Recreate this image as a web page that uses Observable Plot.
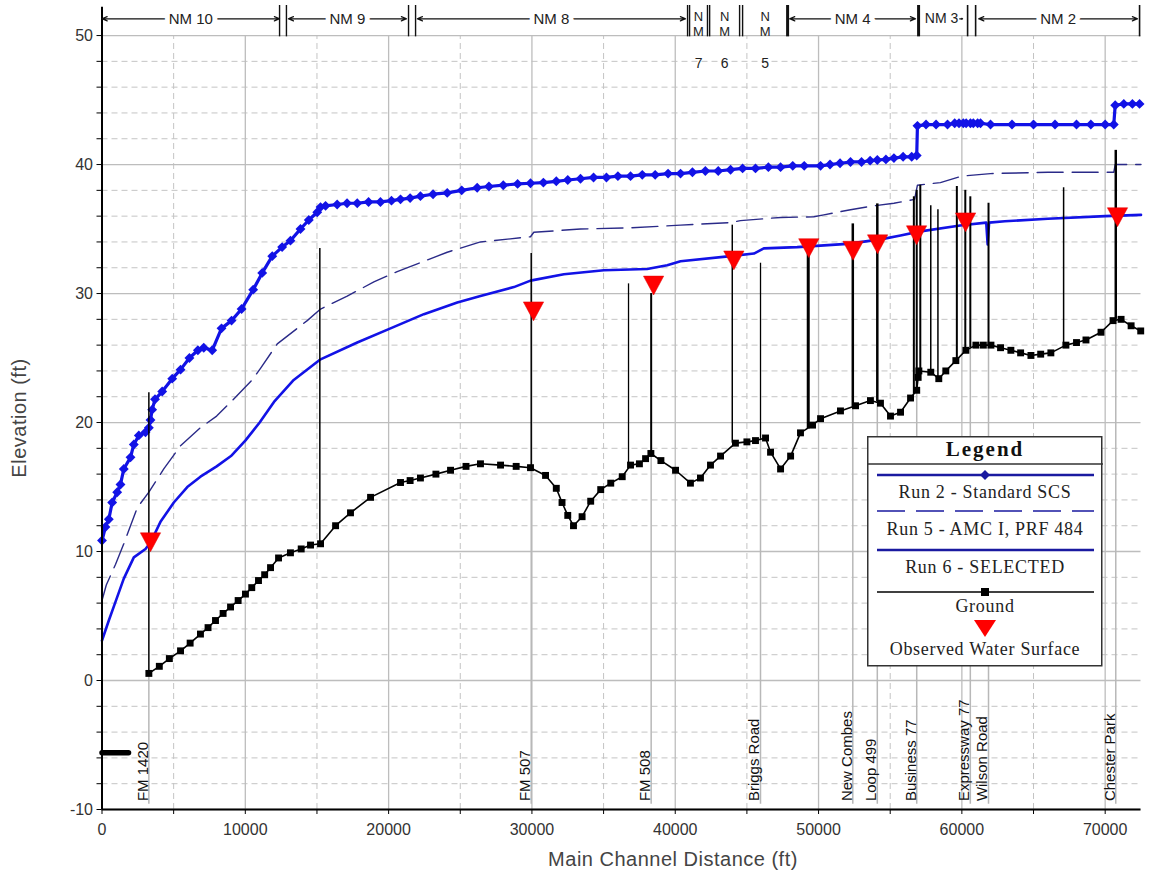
<!DOCTYPE html>
<html><head><meta charset="utf-8">
<script src="https://cdn.jsdelivr.net/npm/d3@7"></script>
<script src="https://cdn.jsdelivr.net/npm/@observablehq/plot@0.6"></script>
<style>
body{margin:0;background:#fff;}
#wrap{position:relative;width:1150px;height:874px;overflow:hidden;font-family:'Liberation Sans',Arial,sans-serif;}
#legend{position:absolute;left:867px;top:436px;}
.atitle{position:absolute;white-space:nowrap;font-size:20px;letter-spacing:0.5px;color:#444;transform:translate(-50%,-50%);}
</style></head><body><div id="wrap"></div>
<script>
// ---------------- data ----------------
const run2 = [[0,10.85],[240,11.9],[475,12.5],[710,13.8],[1060,14.6],[1290,15.2],[1520,16.4],[1990,17.3],[2220,18.3],[2570,19.0],[3035,19.25],[3270,19.6],[3385,20.2],[3500,21.0],[3700,21.8],[4200,22.4],[4900,23.4],[5480,24.1],[6100,25.0],[6690,25.6],[7100,25.8],[7690,25.6],[8340,27.3],[9040,27.9],[9740,28.8],[10550,30.3],[11180,31.6],[11880,32.9],[12570,33.6],[13150,34.1],[13850,35.0],[14430,35.7],[15020,36.3],[15250,36.7],[15600,36.8],[16410,36.9],[17100,37.0],[17810,37.0],[18600,37.1],[19430,37.1],[20200,37.2],[20830,37.3],[21500,37.4],[22220,37.55],[23100,37.7],[24090,37.8],[25100,38.0],[26180,38.2],[27000,38.3],[28000,38.4],[29000,38.5],[29900,38.55],[30800,38.6],[31700,38.7],[32500,38.8],[33390,38.9],[34300,39.0],[35200,39.0],[36000,39.1],[36880,39.1],[37700,39.2],[38600,39.2],[39500,39.3],[40370,39.3],[41200,39.4],[42100,39.5],[43000,39.5],[43860,39.6],[44700,39.7],[45600,39.7],[46500,39.8],[47350,39.8],[48200,39.9],[49000,39.9],[50140,39.9],[50800,40.0],[51500,40.1],[52230,40.2],[53000,40.2],[53600,40.3],[54100,40.35],[54700,40.4],[55260,40.5],[55900,40.6],[56500,40.6],[56850,40.7],[56900,43.0],[57500,43.1],[58200,43.1],[59000,43.1],[59500,43.2],[59800,43.2],[60100,43.2],[60300,43.2],[60600,43.2],[60800,43.2],[61100,43.2],[61300,43.2],[62000,43.1],[63500,43.1],[65000,43.1],[66500,43.1],[68000,43.1],[69000,43.1],[70000,43.1],[70600,43.1],[70700,44.6],[71300,44.7],[71900,44.7],[72400,44.7]];
const run5 = [[0,6.2],[300,7.4],[940,9.0],[1520,10.6],[2460,13.4],[3270,14.6],[4310,16.4],[5480,18.2],[6870,19.6],[8000,20.5],[9000,21.6],[10480,23.3],[11060,24.2],[12230,26.1],[14320,27.9],[15250,28.8],[17110,29.8],[18970,30.9],[20600,31.7],[22460,32.5],[24090,33.2],[26410,34.0],[29900,34.4],[30130,34.75],[33390,35.0],[36880,35.1],[40370,35.3],[43860,35.5],[44550,35.65],[47350,35.9],[49670,35.95],[50370,36.1],[52230,36.5],[53860,36.8],[55260,37.0],[56700,37.3],[56900,38.4],[58500,38.6],[60000,39.1],[62000,39.3],[66000,39.4],[70600,39.4],[70700,40.0],[72500,40.0]];
const run6 = [[0,3.1],[475,4.65],[940,6.1],[1520,7.9],[2220,9.55],[3035,10.2],[3385,10.7],[4080,12.3],[5010,13.8],[5950,15.0],[6870,15.8],[8000,16.6],[9000,17.4],[10000,18.6],[11000,20.0],[12000,21.6],[13380,23.3],[15250,24.9],[17810,26.2],[20130,27.3],[22460,28.4],[24790,29.3],[26410,29.8],[28740,30.5],[29900,31.0],[32230,31.5],[35020,31.8],[38040,31.9],[39440,32.2],[40370,32.5],[43860,32.9],[45490,33.1],[46180,33.5],[48510,33.6],[52000,33.85],[54330,34.2],[55720,34.5],[57000,34.8],[60000,35.3],[61700,35.5],[61800,33.8],[61900,35.5],[63000,35.6],[66000,35.8],[70000,36.0],[72500,36.1]];
const ground = [[3270,0.55],[4000,1.1],[4700,1.7],[5480,2.3],[6150,2.9],[6870,3.6],[7400,4.1],[7920,4.65],[8450,5.2],[8970,5.7],[9500,6.2],[10010,6.7],[10450,7.2],[10920,7.75],[11350,8.2],[11760,8.75],[12320,9.5],[13150,9.9],[13900,10.2],[14550,10.5],[15250,10.6],[16300,12.0],[17340,13.0],[18740,14.2],[20830,15.35],[21500,15.5],[22220,15.7],[23300,16.0],[24320,16.3],[25400,16.6],[26410,16.8],[27810,16.7],[28900,16.6],[29900,16.5],[30950,15.9],[31700,14.9],[32100,13.8],[32500,12.8],[32900,12.0],[33500,12.7],[34100,13.9],[34800,14.8],[35500,15.3],[36300,15.8],[36880,16.7],[37500,16.8],[37930,17.2],[38300,17.6],[39000,17.05],[40020,16.3],[41060,15.3],[41760,15.7],[42460,16.7],[43160,17.4],[44200,18.4],[45000,18.5],[45600,18.6],[46300,18.8],[46650,17.7],[47350,16.4],[48050,17.4],[48740,19.2],[49580,19.8],[50140,20.3],[51530,20.9],[52580,21.3],[53620,21.7],[54320,21.5],[55020,20.5],[55720,20.8],[56420,21.9],[56850,22.5],[56950,23.5],[57000,24.0],[57830,23.9],[58390,23.4],[58880,24.0],[59580,24.8],[60280,25.6],[60980,26.0],[61500,26.0],[62030,26.0],[62700,25.8],[63420,25.6],[64100,25.4],[64820,25.2],[65500,25.3],[66210,25.4],[67260,26.0],[68000,26.2],[68660,26.4],[69710,27.0],[70550,27.9],[71110,28.0],[71810,27.5],[72480,27.1]];
const groundStub = [[0,-5.6],[1850,-5.6]];
const observed = [[3385,10.8],[30110,28.7],[38490,30.7],[44090,32.65],[49320,33.6],[52410,33.4],[54120,33.9],[56840,34.6],[60260,35.6],[70860,36.0]];
// bridge / structure vertical lines: station, bottom, top, width
const structX = [0,3270,15200,29950,36740,38320,43980,45950,49280,52390,54100,56650,56850,57100,57830,58330,59650,60240,60590,61860,67100,70740];
const structBottom = [2.1,0.55,10.6,16.5,16.7,17.6,18.4,18.7,19.5,21.2,21.6,22.2,22.5,24.0,23.9,23.4,24.8,25.6,25.8,26.0,26.0,28.0];
const structTop = [3.0,22.3,33.5,33.1,30.75,30.0,35.3,32.35,33.6,35.4,36.95,37.5,38.0,38.4,36.8,36.5,38.3,38.0,37.5,37.0,38.2,41.1];
const structWidth = [2,1.5,1.5,1.5,1.3,2,1.5,1.3,3,2.5,2.5,2,2,2,1.5,1.5,2,2,2,2,1.5,2.5];
// road crossing labels
const roadNames = ["FM 1420","FM 507","FM 508","Briggs Road","New Combes","Loop 499","Business 77","Expressway 77","Wilson Road","Chester Park"];
const roadStation = [3270,29950,38320,45950,52390,54100,56850,60590,61860,70740];
const roadGround = [0.55,16.5,17.6,18.7,21.2,21.6,22.5,25.8,26.0,28.0];
// reaches header
const reachNames = ["NM 10","NM 9","NM 8","NM 7","NM 6","NM 5","NM 4","NM 3","NM 2"];
const reachStart = [0,13000,22000,41000,42400,44700,47980,57120,61170];
const reachEnd   = [12390,21250,40720,42250,44490,47840,56770,60050,72260];
const reachStacked = [false,false,false,true,true,true,false,false,false];
const reachBars  = [12390,12870,21390,21880,40860,41000,42250,42400,44490,44700,47840,56980,60400,60960,72400];
const reachBarW  = [1.4,1.4,1.4,1.4,1.4,1.4,1.4,1.4,1.4,1.4,3,3,1.6,1.6,1.6];
// axes ticks
const xTicks = d3.range(0, 70001, 5000);
const yTicks = d3.range(-10, 51, 2);
const xTitle = "Main Channel Distance (ft)";
const yTitle = "Elevation (ft)";
const legendLabels = ["Run 2 - Standard SCS","Run 5 - AMC I, PRF 484","Run 6 - SELECTED","Ground","Observed Water Surface"];

// ---------------- build ----------------
const toPts = a => a.map(([x,y]) => ({x,y}));
const structs = structX.map((x,i)=>({x, y1: structBottom[i], y2: structTop[i], w: structWidth[i]}));
const roads = roadNames.map((name,i)=>({name, x: roadStation[i], g: roadGround[i]}));
const reaches = reachNames.map((name,i)=>({name, s: reachStart[i], e: reachEnd[i], m:(reachStart[i]+reachEnd[i])/2, stacked: reachStacked[i]}));
const wide = reaches.filter(r => !r.stacked && r.name !== "NM 3");
const narrow = reaches.filter(r => r.stacked);
const nm3 = reaches.filter(r => r.name === "NM 3");
const arrows = wide.flatMap(r => [{x1:r.m, x2:r.s}, {x1:r.m, x2:r.e}]);
const bars = reachBars.map((x,i)=>({x, w: reachBarW[i]}));

const triDown = {draw(ctx, size){ const r = Math.sqrt(size/Math.PI); ctx.moveTo(-1.45*r,-1.2*r); ctx.lineTo(1.45*r,-1.2*r); ctx.lineTo(0,1.5*r); ctx.closePath(); }};
const diamondSq = {draw(ctx, size){ const s = Math.sqrt(size/Math.PI)*1.15; ctx.moveTo(0,-s); ctx.lineTo(s,0); ctx.lineTo(0,s); ctx.lineTo(-s,0); ctx.closePath(); }};

const BLUE = "#1212e6";
const font = "'Liberation Sans', Arial, sans-serif";

const chart = Plot.plot({
  width: 1150, height: 874,
  marginLeft: 101.5, marginRight: 9.5, marginTop: 5, marginBottom: 65,
  style: {fontFamily: font, background: "white", overflow: "visible"},
  x: {domain: [0, 72500]},
  y: {domain: [-10, 52.33]},
  marks: [
    Plot.ruleY(yTicks.filter(d => d % 10 !== 0), {y: d=>d, x1: 0, x2: 72500, stroke: "#c4c4c4", strokeDasharray: "6,4"}),
    Plot.ruleX(xTicks.filter(d => d % 10000 !== 0), {x: d=>d, y1: -10, y2: 50, stroke: "#c4c4c4", strokeDasharray: "6,4"}),
    Plot.ruleY(yTicks.filter(d => d % 10 === 0), {y: d=>d, x1: 0, x2: 72500, stroke: "#bdbdbd", strokeWidth: 1.3}),
    Plot.ruleX(xTicks.filter(d => d % 10000 === 0), {x: d=>d, y1: -10, y2: 50, stroke: "#bdbdbd", strokeWidth: 1.3}),
    // road crossing guides and labels
    Plot.ruleX(roads, {x: "x", y1: -9.6, y2: "g", stroke: "#b8b8b8", strokeWidth: 1.5}),
    Plot.text(roads, {x: "x", y: -9.35, text: "name", rotate: -90, textAnchor: "start", dx: -6, fontSize: 15, fill: "#111"}),
    // series
    Plot.line(toPts(groundStub), {x:"x", y:"y", stroke: "black", strokeWidth: 5.5}),
    Plot.line(toPts(run6), {x:"x", y:"y", stroke: BLUE, strokeWidth: 2.6}),
    Plot.line(toPts(run5), {x:"x", y:"y", stroke: "#2a2a88", strokeWidth: 1.4, strokeDasharray: "26,9"}),
    Plot.line(toPts(run2), {x:"x", y:"y", stroke: BLUE, strokeWidth: 3.2}),
    Plot.dot(toPts(run2), {x:"x", y:"y", symbol: diamondSq, r: 4.3, fill: BLUE}),
    Plot.ruleX(structs, {x: "x", y1: "y1", y2: "y2", stroke: "black", strokeWidth: "w"}),
    Plot.line(toPts(ground), {x:"x", y:"y", stroke: "black", strokeWidth: 1.6}),
    Plot.dot(toPts(ground), {x:"x", y:"y", symbol: "square", r: 3.9, fill: "black"}),
    Plot.dot(toPts(observed), {x:"x", y:"y", symbol: triDown, r: 7, fill: "#ff0000", stroke: "#e00000", strokeWidth: 0.5}),
    // axes
    Plot.ruleX([0], {y1: -10, y2: 52.2, stroke: "black", strokeWidth: 2}),
    Plot.ruleY([-10], {x1: 0, x2: 72500, stroke: "black", strokeWidth: 2}),
    Plot.axisX({ticks: xTicks, tickFormat: d => d % 10000 === 0 ? String(d) : "", tickSize: 5, tickPadding: 9, fontSize: 16, color: "#333", stroke: "black", label: null}),
    Plot.axisY({ticks: yTicks, tickFormat: d => d % 10 === 0 ? String(d) : "", tickSize: 5, tickPadding: 4, fontSize: 16, color: "#333", stroke: "black", label: null}),
    // header: reaches
    Plot.ruleX(bars, {x: "x", y1: 49.9, y2: 52.33, stroke: "#111", strokeWidth: "w"}),
    Plot.arrow(arrows, {x1: "x1", x2: "x2", y1: 51.3, y2: 51.3, stroke: "#111", strokeWidth: 1.2, headLength: 7, headAngle: 45}),
    Plot.text(wide, {x: "m", y: 51.3, text: "name", fontSize: 15, fill: "#222", stroke: "white", strokeWidth: 10}),
    Plot.arrow(nm3, {x1: d=>d.e - 200, x2: "e", y1: 51.3, y2: 51.3, stroke: "#111", strokeWidth: 1.2, headLength: 6}),
    Plot.text(nm3, {x: "m", y: 51.3, text: "name", fontSize: 14, fill: "#222"}),
    Plot.text(narrow, {x: "m", y: 51.45, text: d => "N", fontSize: 13, fill: "#222"}),
    Plot.text(narrow, {x: "m", y: 50.3, text: d => "M", fontSize: 13, fill: "#222"}),
    Plot.text(narrow, {x: "m", y: 47.8, text: d => d.name.replace("NM ", ""), fontSize: 14, fill: "#222"})
  ]
});
const wrap = document.getElementById("wrap");
wrap.appendChild(chart);

// axis titles
const xt = document.createElement("div"); xt.className = "atitle"; xt.textContent = xTitle;
xt.style.left = "673px"; xt.style.top = "859px"; wrap.appendChild(xt);
const yt = document.createElement("div"); yt.className = "atitle"; yt.textContent = yTitle;
yt.style.left = "19px"; yt.style.top = "418px"; yt.style.transform = "translate(-50%,-50%) rotate(-90deg)"; wrap.appendChild(yt);

// ---------------- legend ----------------
const lg = d3.select("#wrap").append("svg").attr("id","legend").attr("width",236).attr("height",231)
  .style("font-family","'Liberation Serif','Times New Roman',serif");
lg.append("rect").attr("x",0.75).attr("y",0.75).attr("width",234).attr("height",229).attr("fill","white").attr("stroke","#333").attr("stroke-width",1.5);
lg.append("line").attr("x1",0).attr("x2",236).attr("y1",28).attr("y2",28).attr("stroke","#333").attr("stroke-width",1.5);
lg.append("text").attr("x",118).attr("y",13).attr("dy","0.35em").attr("text-anchor","middle").attr("font-weight","bold").attr("font-size",21).attr("letter-spacing",2).attr("fill","#111").text("Legend");
const ly = [39, 75, 114, 156, 192];
const ty = [56, 93, 131, 170, 213];
lg.append("line").attr("x1",10).attr("x2",227).attr("y1",ly[0]).attr("y2",ly[0]).attr("stroke","#1a1aa0").attr("stroke-width",2.5);
lg.append("path").attr("d","M0,-5L5,0L0,5L-5,0Z").attr("transform",`translate(118,${ly[0]})`).attr("fill","#1a1aa0");
lg.append("line").attr("x1",10).attr("x2",227).attr("y1",ly[1]).attr("y2",ly[1]).attr("stroke","#1a1aa0").attr("stroke-width",1.6).attr("stroke-dasharray","28,11");
lg.append("line").attr("x1",10).attr("x2",227).attr("y1",ly[2]).attr("y2",ly[2]).attr("stroke","#1a1aa0").attr("stroke-width",2.6);
lg.append("line").attr("x1",10).attr("x2",227).attr("y1",ly[3]).attr("y2",ly[3]).attr("stroke","black").attr("stroke-width",1.5);
lg.append("rect").attr("x",114).attr("y",ly[3]-4).attr("width",8).attr("height",8).attr("fill","black");
lg.append("path").attr("d","M-11,-8L11,-8L0,9Z").attr("transform",`translate(118,${ly[4]})`).attr("fill","#ff0000");
legendLabels.forEach((t,i)=>{
  lg.append("text").attr("x",118).attr("y",ty[i]).attr("dy","0.35em").attr("text-anchor","middle").attr("font-size",18).attr("letter-spacing",0.7).attr("fill","#222").text(t);
});
</script></body></html>
